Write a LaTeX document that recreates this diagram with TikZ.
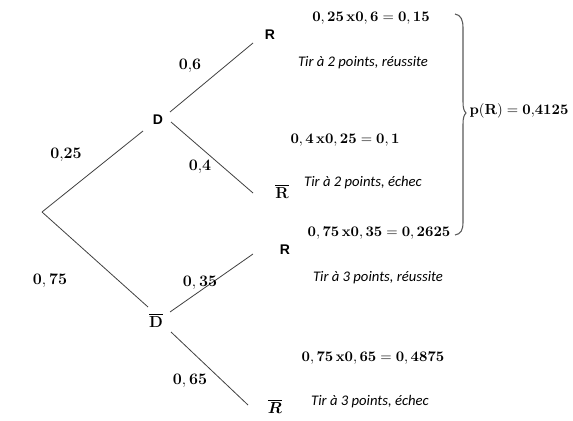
\documentclass[tikz,border=0pt]{standalone}
\usepackage{amsmath}
\usepackage[no-math]{fontspec}
\setmainfont{Carlito}
\newfontfamily\arialf{Liberation Sans}
\begin{document}
\begin{tikzpicture}[x=0.75pt,y=-0.75pt,
  br/.style={draw=black!75,line width=0.6pt},
  ev/.style={font=\arialf\bfseries\fontsize{10.5}{12}\selectfont,inner sep=0pt},
  prob/.style={font=\fontsize{11.5}{13}\selectfont,inner sep=0pt},
  calc/.style={font=\fontsize{10.8}{13}\selectfont,inner sep=0pt},
  note/.style={font=\itshape\fontsize{11}{13}\selectfont,inner sep=0pt}]
\useasboundingbox (0,0) rectangle (573,420);
% event nodes
\node[ev] (D) at (158,120) {D};
\node[prob] (Db) at (156,320) {$\overline{\mathbf{D}}$};
\node[ev] (R1) at (270,35) {R};
\node[prob] (R1b) at (282,191) {$\overline{\mathbf{R}}$};
\node[ev] (R2) at (285,250) {R};
\node[prob] (R2b) at (275,406) {$\boldsymbol{\overline{R}}$};
% branch end points
\coordinate (root) at (42,212);
\coordinate (Din) at (143,131);
\coordinate (Dbin) at (148,307);
\coordinate (Dout1) at (170,112);
\coordinate (Dout2) at (171,122);
\coordinate (R1in) at (253,43);
\coordinate (R1bin) at (253,193);
\coordinate (Dbout1) at (170,312);
\coordinate (Dbout2) at (171,332);
\coordinate (R2in) at (253,254);
\coordinate (R2bin) at (248,405);
\draw[br] (root) -- (Din);
\draw[br] (root) -- (Dbin);
\draw[br] (Dout1) -- (R1in);
\draw[br] (Dout2) -- (R1bin);
\draw[br] (Dbout1) -- (R2in);
\draw[br] (Dbout2) -- (R2bin);
% probabilities
\node[prob] (p1) at (66,155) {$\mathbf{0{,}25}$};
\node[prob] (p2) at (50,281) {$\mathbf{0,75}$};
\node[prob] (p3) at (190,66) {$\mathbf{0{,}6}$};
\node[prob] (p4) at (200,167) {$\mathbf{0{,}4}$};
\node[prob] (p5) at (200,283) {$\mathbf{0,35}$};
\node[prob] (p6) at (190,381) {$\mathbf{0,65}$};
% calculations
\node[calc] (c1) at (371,18) {$\mathbf{0,25\,x0,6=0,15}$};
\node[calc] (c2) at (345,140) {$\mathbf{0,4\,x0,25=0,1}$};
\node[calc] (c3) at (379,233) {$\mathbf{0,75\,x0,35=0,2625}$};
\node[calc] (c4) at (373,358) {$\mathbf{0,75\,x0,65=0,4875}$};
% notes
\node[note] (n1) at (363,63) {Tir à 2 points, réussite};
\node[note] (n2) at (363,183) {Tir à 2 points, échec};
\node[note] (n3) at (378,278) {Tir à 3 points, réussite};
\node[note] (n4) at (370,402) {Tir à 3 points, échec};
% brace
\draw[draw=black!65,line width=0.8pt] (455,14) .. controls (461,15) and (463,20) .. (463,28) -- (463,102) .. controls (463,108) and (464,111) .. (466,113) .. controls (464,115) and (463,118) .. (463,124) -- (463,222) .. controls (463,230) and (461,234) .. (455,235);
\node[calc] (pR) at (519,111) {$\mathbf{p(R)=0{,}4125}$};
\end{tikzpicture}
\end{document}
